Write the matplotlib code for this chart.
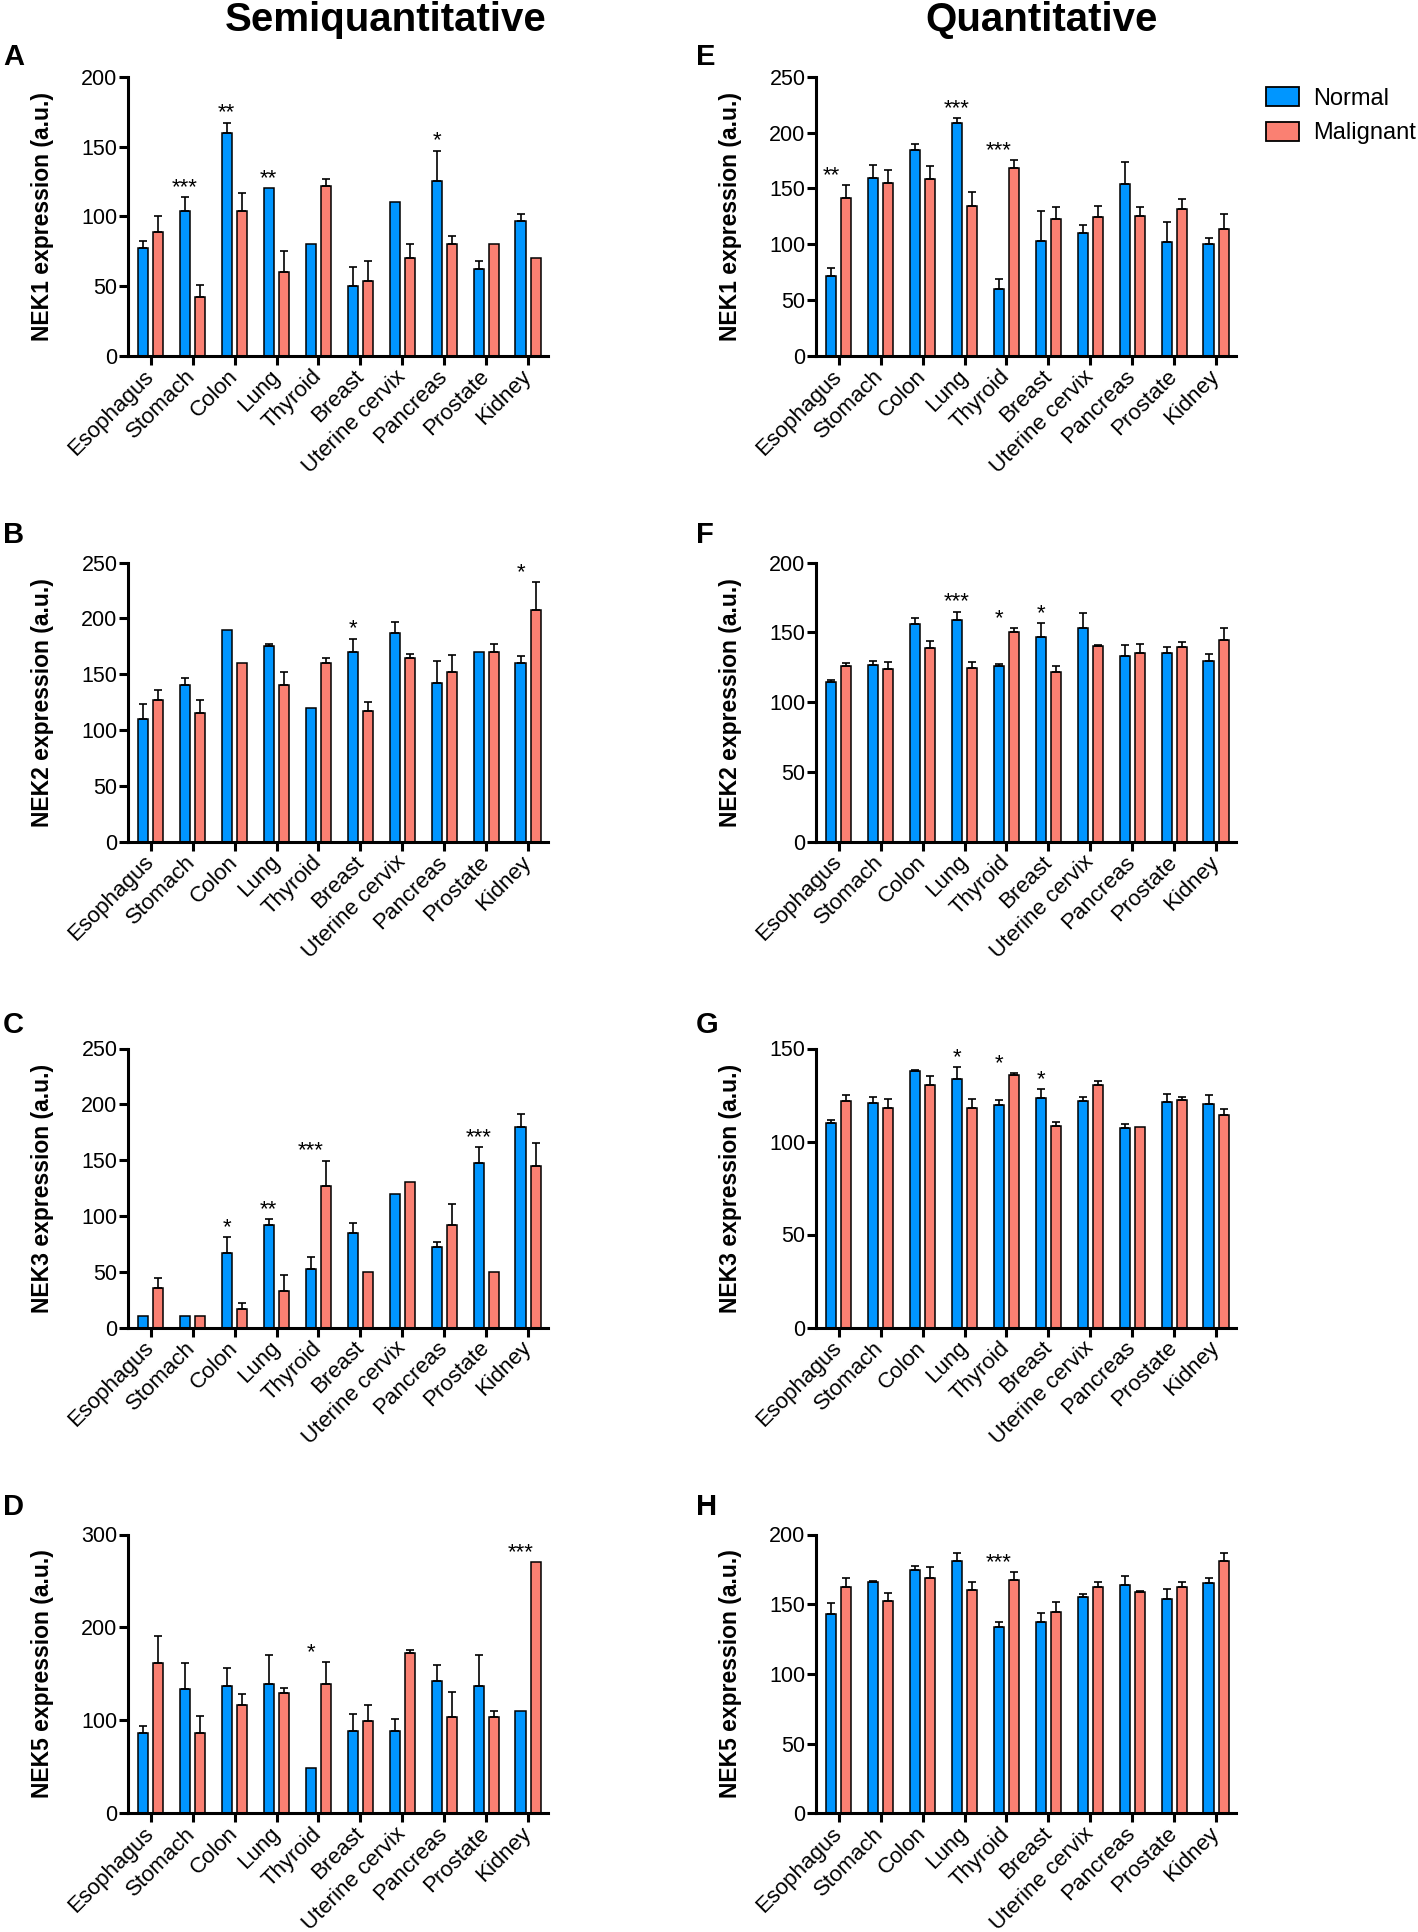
import numpy as np
import matplotlib
matplotlib.use("Agg")
import matplotlib.pyplot as plt
from matplotlib.patches import Patch

plt.rcParams['font.family'] = ['Liberation Sans', 'DejaVu Sans']

tissues = ["Esophagus", "Stomach", "Colon", "Lung", "Thyroid", "Breast",
           "Uterine cervix", "Pancreas", "Prostate", "Kidney"]

# --- Semiquantitative ---
a_normal = [77, 104, 160, 120, 80, 50, 110, 125, 62, 97]
a_normal_err = [5, 9.5, 7, 0, 0, 14, 0, 22, 6, 5]
a_malig = [89, 42, 104, 60, 122, 54, 70, 80, 80, 70]
a_malig_err = [11, 8.5, 12.5, 15, 4.5, 14, 10, 6, 0, 0]
a_stars = ['', '***', '**', '**', '', '', '', '*', '', '']

b_normal = [110, 140, 190, 175, 120, 170, 187, 142, 170, 160]
b_normal_err = [13, 7, 0, 2.5, 0, 12, 9.5, 19.5, 0, 6]
b_malig = [127, 115, 160, 140, 160, 117, 165, 152, 170, 208]
b_malig_err = [8.5, 12, 0, 12.5, 4.5, 8.5, 3, 15.5, 7, 24.5]
b_stars = ['', '', '', '', '', '*', '', '', '', '*']

c_normal = [10, 10, 67, 92, 52, 85, 120, 72, 147, 180]
c_normal_err = [0, 0, 14, 5, 11, 9, 0, 5, 14.5, 11.5]
c_malig = [35, 10, 17, 33, 127, 50, 130, 92, 50, 145]
c_malig_err = [9, 0, 5, 14, 22.5, 0, 0, 19, 0, 20]
c_stars = ['', '', '*', '**', '***', '', '', '', '***', '']

d_normal = [86, 134, 137, 139, 49, 89, 89, 142, 137, 110]
d_normal_err = [8, 28, 19.5, 31, 0, 17.5, 12.5, 17.5, 33.5, 0]
d_malig = [162, 86, 116, 129, 139, 99, 173, 104, 104, 270]
d_malig_err = [28.5, 19, 12, 5.5, 23.5, 17.5, 3, 26.5, 6.5, 0]
d_stars = ['', '', '', '', '*', '', '', '', '', '***']

# --- Quantitative ---
e_normal = [72, 159, 184, 209, 60, 103, 110, 154, 102, 100]
e_normal_err = [6.5, 12, 5.5, 4, 9, 27, 7, 19.5, 18, 6]
e_malig = [141, 155, 158, 134, 168, 123, 124, 125, 132, 114]
e_malig_err = [12, 11.5, 12, 13, 7, 10, 10, 8.5, 8.5, 13.5]
e_stars = ['**', '', '', '***', '***', '', '', '', '', '']

f_normal = [114.5, 126.5, 156, 159, 126, 146.5, 153, 133, 135.5, 129.5]
f_normal_err = [1.5, 3, 4.5, 6, 1.7, 10, 11, 8, 4.3, 4.8]
f_malig = [126, 124, 138.5, 124.5, 150, 122, 140.5, 135.5, 139.5, 144.5]
f_malig_err = [2.4, 4.5, 5.3, 4, 3, 4, 0.7, 6, 3.3, 8.5]
f_stars = ['', '', '', '***', '*', '*', '', '', '', '']

g_normal = [110, 120.5, 138, 133.5, 119.5, 123.5, 122, 107, 121, 120]
g_normal_err = [1.3, 3.2, 0.4, 6.3, 2.7, 4.5, 1.8, 2.5, 4.5, 5]
g_malig = [122, 118, 130.5, 118, 136, 108.5, 130.5, 108, 122.5, 114]
g_malig_err = [3, 5, 4.8, 5, 0.9, 2.2, 2.1, 0, 1.6, 3.4]
g_stars = ['', '', '', '*', '*', '*', '', '', '', '']

h_normal = [143, 166, 174.5, 181, 134, 137, 155, 164, 154, 165.5]
h_normal_err = [8, 0.7, 3, 5.5, 3, 7, 2, 6, 7, 3]
h_malig = [162.5, 152.5, 168.5, 160.5, 167.5, 144.5, 162.5, 159, 162.5, 181]
h_malig_err = [6.5, 5.5, 8, 5.5, 5.3, 7, 3.3, 0.5, 3.3, 6]
h_stars = ['', '', '', '', '***', '', '', '', '', '']

BLUE = '#0096FF'
SALMON = '#FA8072'

W, H = 1418, 1932
fig = plt.figure(figsize=(W / 100, H / 100), dpi=100)

col_left = [128, 816]
ax_w = 420
row_top = [76.7, 562.7, 1048.5, 1534.5]
row_zero = [356, 841.7, 1327.5, 1813.3]
letter_base = [65, 543, 1033, 1515]


def draw_panel(col, row, letter, ylabel, normal, nerr, malig, merr, stars, ymax, ystep):
    rect = [col_left[col] / W, 1 - row_zero[row] / H, ax_w / W,
            (row_zero[row] - row_top[row]) / H]
    ax = fig.add_axes(rect)
    x = np.arange(len(tissues))
    off, bw = 0.185, 0.24
    normal = np.array(normal, float)
    malig = np.array(malig, float)
    nerr = np.array(nerr, float)
    merr = np.array(merr, float)
    ax.bar(x - off, normal, bw, color=BLUE, edgecolor='black', linewidth=1.1, zorder=2)
    ax.bar(x + off, malig, bw, color=SALMON, edgecolor='black', linewidth=1.1, zorder=2)
    for xs, v, e in ((x - off, normal, nerr), (x + off, malig, merr)):
        m = e > 0
        ax.errorbar(xs[m], v[m], yerr=[np.zeros(m.sum()), e[m]], fmt='none',
                    ecolor='black', elinewidth=1.2, capsize=2.6, capthick=1.2, zorder=3)
    for i, s in enumerate(stars):
        if s:
            top = max(normal[i] + nerr[i], malig[i] + merr[i])
            ax.annotate(s, (x[i] - off, top), xytext=(0, 3), textcoords='offset points',
                        ha='center', va='baseline', fontsize=16)
    ax.set_xlim(-0.54, 9.47)
    ax.set_ylim(0, ymax)
    ax.set_yticks(np.arange(0, ymax + 1, ystep))
    ax.set_xticks(x)
    ax.set_xticklabels(tissues, rotation=45, ha='right', va='center',
                       rotation_mode='anchor', fontsize=16)
    ax.tick_params(axis='y', labelsize=15.5, length=6.5, width=2.2, pad=1)
    ax.tick_params(axis='x', length=6.5, width=2.2, pad=6)
    for sp in ('top', 'right'):
        ax.spines[sp].set_visible(False)
    for sp in ('left', 'bottom'):
        ax.spines[sp].set_linewidth(2.2)
    ax.spines['left'].set_bounds(0, ymax)
    ax.set_ylabel(ylabel, fontsize=16.5, fontweight='bold')
    ax.yaxis.set_label_coords(-74 / ax_w, 0.5)
    lx = 3 if col == 0 else 696
    fig.text(lx / W, 1 - letter_base[row] / H, letter, fontsize=21,
             fontweight='bold', ha='left', va='baseline')
    return ax


draw_panel(0, 0, 'A', 'NEK1 expression (a.u.)', a_normal, a_normal_err, a_malig, a_malig_err, a_stars, 200, 50)
draw_panel(0, 1, 'B', 'NEK2 expression (a.u.)', b_normal, b_normal_err, b_malig, b_malig_err, b_stars, 250, 50)
draw_panel(0, 2, 'C', 'NEK3 expression (a.u.)', c_normal, c_normal_err, c_malig, c_malig_err, c_stars, 250, 50)
draw_panel(0, 3, 'D', 'NEK5 expression (a.u.)', d_normal, d_normal_err, d_malig, d_malig_err, d_stars, 300, 100)
draw_panel(1, 0, 'E', 'NEK1 expression (a.u.)', e_normal, e_normal_err, e_malig, e_malig_err, e_stars, 250, 50)
draw_panel(1, 1, 'F', 'NEK2 expression (a.u.)', f_normal, f_normal_err, f_malig, f_malig_err, f_stars, 200, 50)
draw_panel(1, 2, 'G', 'NEK3 expression (a.u.)', g_normal, g_normal_err, g_malig, g_malig_err, g_stars, 150, 50)
draw_panel(1, 3, 'H', 'NEK5 expression (a.u.)', h_normal, h_normal_err, h_malig, h_malig_err, h_stars, 200, 50)

fig.text(386 / W, 1 - 31 / H, 'Semiquantitative', fontsize=29, fontweight='bold',
         ha='center', va='baseline')
fig.text(1042 / W, 1 - 31 / H, 'Quantitative', fontsize=29, fontweight='bold',
         ha='center', va='baseline')

handles = [Patch(facecolor=BLUE, edgecolor='black', linewidth=1.3, label='Normal'),
           Patch(facecolor=SALMON, edgecolor='black', linewidth=1.3, label='Malignant')]
fig.legend(handles=handles, loc='upper left', bbox_to_anchor=(1266 / W, 1 - 87 / H),
           frameon=False, fontsize=17, borderpad=0, borderaxespad=0,
           handlelength=1.4, handleheight=0.88, handletextpad=0.6, labelspacing=0.5)

fig.savefig('out.png', dpi=100)
